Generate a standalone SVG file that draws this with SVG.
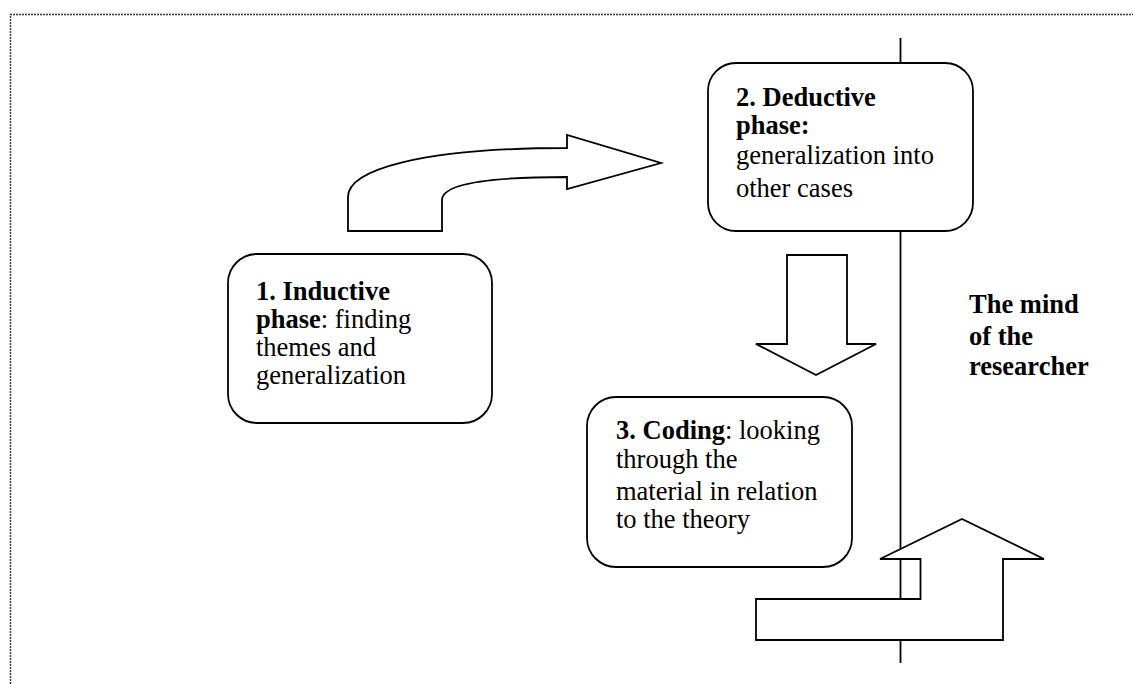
<svg xmlns="http://www.w3.org/2000/svg" width="1133" height="684" viewBox="0 0 1133 684">
  <style>
    .frame { fill: none; stroke: #333; stroke-width: 1.4; stroke-dasharray: 2 1; }
    .shape { fill: #fff; stroke: #000; stroke-width: 1.8; stroke-linejoin: miter; }
    .axis { fill: none; stroke: #000; stroke-width: 1.8; }
    .label { font-family: "Liberation Serif", "Times New Roman", serif; font-size: 26.5px; fill: #000; }
    .b { font-weight: bold; }
  </style>

  <rect width="1133" height="684" fill="#fff"/>

  <!-- dotted frame: top and left edges -->
  <path class="frame" d="M10.5,684 L10.5,14.5 L1133,14.5"/>

  <!-- vertical axis separating the researcher's mind -->
  <line class="axis" x1="900.5" y1="38" x2="900.5" y2="663"/>

  <g id="connectors">
    <!-- bent arrow from inductive phase up to deductive phase -->
    <path id="arrow-up-right" class="shape" d="M348,231 L348,197 C348,170 420,148 567,148 L567,135 L661,163 L567,189 L567,177 C500,177 442,182 442,200 L442,231 Z"/>
    <!-- downward arrow from deductive phase to coding -->
    <path id="arrow-down" class="shape" d="M787,255 L847,255 L847,344 L876,344 L816,375 L756,344 L787,344 Z"/>
    <!-- U-turn arrow at the bottom, crossing the axis -->
    <path id="arrow-uturn" class="shape" d="M756,599 L920.5,599 L920.5,559 L880,559 L962,519 L1044,559 L1003,559 L1003,640 L756,640 Z"/>
  </g>

  <g id="node-inductive">
    <rect class="shape" x="228" y="254" width="264" height="169" rx="29" ry="29"/>
    <text class="label" x="256" y="300"><tspan class="b">1. Inductive</tspan></text>
    <text class="label" x="256" y="328"><tspan class="b">phase</tspan>: finding</text>
    <text class="label" x="256" y="356">themes and</text>
    <text class="label" x="256" y="384">generalization</text>
  </g>

  <g id="node-deductive">
    <rect class="shape" x="708" y="63" width="265" height="168" rx="28" ry="28"/>
    <text class="label" x="736" y="106"><tspan class="b">2. Deductive</tspan></text>
    <text class="label" x="736" y="134"><tspan class="b">phase:</tspan></text>
    <text class="label" x="736" y="164">generalization into</text>
    <text class="label" x="736" y="197">other cases</text>
  </g>

  <g id="node-coding">
    <rect class="shape" x="587" y="397" width="265" height="170" rx="29" ry="29"/>
    <text class="label" x="616" y="439"><tspan class="b">3. Coding</tspan>: looking</text>
    <text class="label" x="616" y="468">through the</text>
    <text class="label" x="616" y="500">material in relation</text>
    <text class="label" x="616" y="528">to the theory</text>
  </g>

  <g id="node-mind">
    <text class="label b" x="969" y="313">The mind</text>
    <text class="label b" x="969" y="345">of the</text>
    <text class="label b" x="969" y="375">researcher</text>
  </g>
</svg>
